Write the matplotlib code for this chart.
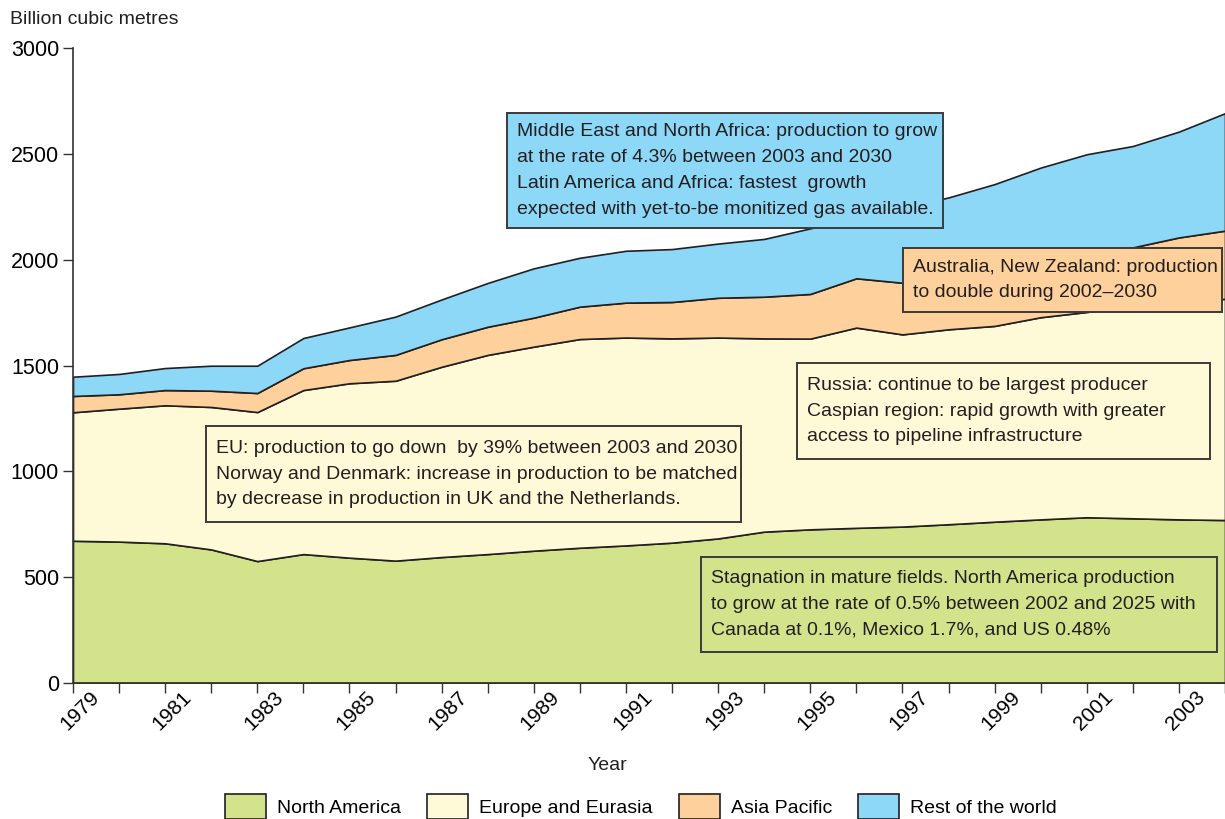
import matplotlib
matplotlib.use("Agg")
import matplotlib.pyplot as plt
from matplotlib.patches import Patch, Rectangle
import numpy as np

W, H = 1225, 819
FONT = ["Liberation Sans Narrow", "Liberation Sans", "DejaVu Sans"]
plt.rcParams["font.family"] = FONT

# ── data (billion cubic metres, one value per tick) ─────────────────────────
north_america = [672, 668, 660, 631, 576, 609, 592, 578, 595, 609, 625, 639, 650,
                 663, 683, 715, 726, 733, 739, 750, 762, 773, 783, 778, 773, 770]
europe_eurasia = [607, 628, 652, 673, 704, 775, 824, 850, 899, 941, 964, 986, 982,
                  965, 949, 913, 901, 946, 908, 921, 925, 955, 970, 997, 1027, 1045]
asia_pacific = [77, 68, 72, 77, 90, 103, 110, 122, 130, 133, 137, 153, 165,
                172, 188, 197, 211, 233, 244, 254, 278, 272, 277, 283, 305, 322]
rest_of_world = [91, 96, 104, 118, 129, 143, 154, 181, 188, 207, 233, 231, 245,
                 250, 256, 273, 310, 283, 354, 369, 392, 435, 468, 479, 500, 555]
series_names = ["North America", "Europe and Eurasia", "Asia Pacific", "Rest of the world"]
year_labels = [str(y) for y in range(1979, 2004)]

COLORS = ["#d3e38b", "#fef9d7", "#fdd09c", "#8dd7f7"]
EDGE = "#231f20"
TXT = 14


def fx(px):
    return px / W


def fy(py):
    return 1 - py / H


fig = plt.figure(figsize=(W / 100, H / 100), dpi=100)
ax = fig.add_axes([fx(73), fy(683), fx(1225) - fx(73), fy(48) - fy(683)])

x = np.arange(len(north_america))
ax.stackplot(x, north_america, europe_eurasia, asia_pacific, rest_of_world,
             colors=COLORS, edgecolor=EDGE, linewidth=1.2)

ax.set_xlim(0, len(x) - 1)
ax.set_ylim(0, 3000)
ax.set_yticks(range(0, 3001, 500))
ax.tick_params(axis="y", labelsize=15.5, length=7, width=1, color="#333333", pad=3)

# year ticks at boundaries, labels in the middle of each year
ax.set_xticks(x)
ax.set_xticklabels([])
ax.set_xticks(np.arange(len(year_labels)) + 0.5, minor=True)
ax.set_xticklabels([lab if i % 2 == 0 else "" for i, lab in enumerate(year_labels)],
                   minor=True, rotation=45, ha="right", va="center",
                   rotation_mode="anchor", fontsize=15)
ax.tick_params(axis="x", which="major", length=7, width=1, color="#333333")
ax.tick_params(axis="x", which="minor", length=0, pad=8)

for side in ("top", "right"):
    ax.spines[side].set_visible(False)
for side in ("left", "bottom"):
    ax.spines[side].set_color("#333333")
    ax.spines[side].set_linewidth(1.2)

fig.text(fx(10), fy(20), "Billion cubic metres", fontsize=TXT, ha="left", va="center",
         color="#231f20")
fig.text(fx(607), fy(765), "Year", fontsize=TXT, ha="center", va="center", color="#231f20")

# ── annotation boxes ───────────────────────────────────────────────────────
boxes = [
    ((507, 113, 943, 228), COLORS[3],
     "Middle East and North Africa: production to grow\n"
     "at the rate of 4.3% between 2003 and 2030\n"
     "Latin America and Africa: fastest  growth\n"
     "expected with yet-to-be monitized gas available."),
    ((903, 248, 1222, 312), COLORS[2],
     "Australia, New Zealand: production\nto double during 2002\u20132030"),
    ((797, 363, 1210, 459), COLORS[1],
     "Russia: continue to be largest producer\n"
     "Caspian region: rapid growth with greater\n"
     "access to pipeline infrastructure"),
    ((206, 426, 741, 522), COLORS[1],
     "EU: production to go down  by 39% between 2003 and 2030\n"
     "Norway and Denmark: increase in production to be matched\n"
     "by decrease in production in UK and the Netherlands."),
    ((701, 557, 1217, 652), COLORS[0],
     "Stagnation in mature fields. North America production\n"
     "to grow at the rate of 0.5% between 2002 and 2025 with\n"
     "Canada at 0.1%, Mexico 1.7%, and US 0.48%"),
]
for (x0, y0, x1, y1), fc, txt in boxes:
    fig.patches.append(Rectangle((fx(x0), fy(y1)), fx(x1) - fx(x0), fy(y0) - fy(y1),
                                 transform=fig.transFigure, facecolor=fc,
                                 edgecolor="#3a3a3a", linewidth=1.4, zorder=3))
    fig.text(fx(x0 + 10), fy((y0 + y1) / 2), txt, fontsize=TXT, ha="left", va="center",
             linespacing=1.68, color="#231f20", zorder=4)

# ── legend ─────────────────────────────────────────────────────────────────
handles = [Patch(facecolor=c, edgecolor=EDGE, linewidth=1.2) for c in COLORS]
fig.legend(handles, series_names, loc="upper left", bbox_to_anchor=(fx(225), fy(794)),
           ncol=4, frameon=False, fontsize=TXT, handlelength=2.1, handleheight=1.6,
           handletextpad=0.57, columnspacing=1.35, borderpad=0, borderaxespad=0)

fig.savefig("out.png", dpi=100)
